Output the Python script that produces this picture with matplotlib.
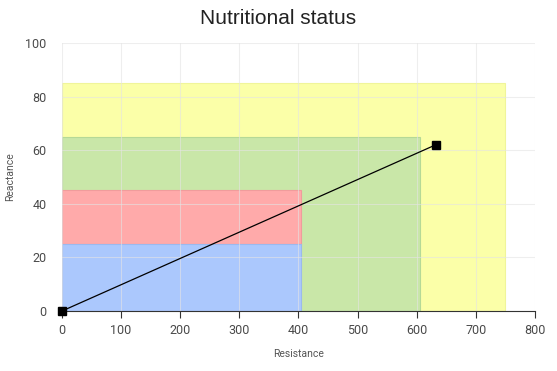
import matplotlib
matplotlib.use("Agg")
import matplotlib.pyplot as plt

# zones: (name, x_end, y_bottom, y_top, colour)
zone_names = ["yellow", "green", "red", "blue"]
zone_x_end = [750, 605, 405, 405]
zone_y_bottom = [0, 0, 25, 0]
zone_y_top = [85, 65, 45, 25]
zone_colors = ["#fbffa8", "#c9e7a8", "#ffaaaa", "#abc8fd"]
zone_edges = ["#f0f59a", "#b5d996", "#f09c9c", "#9bb9ee"]

# measured points
resistance = [0, 632]
reactance = [0, 62]

xticks = [0, 100, 200, 300, 400, 500, 600, 700, 800]
yticks = [0, 20, 40, 60, 80, 100]

fig = plt.figure(figsize=(5.57, 3.71), dpi=100)
ax = fig.add_axes([0.1113, 0.1617, 0.8492, 0.7224])

for i in range(len(zone_names)):
    ax.bar(0, zone_y_top[i] - zone_y_bottom[i], width=zone_x_end[i],
           bottom=zone_y_bottom[i], align='edge', color=zone_colors[i],
           edgecolor=zone_edges[i], linewidth=0.8, zorder=1)

ax.plot(resistance, reactance, color='black', linewidth=0.9,
        marker='s', markersize=6, zorder=5, clip_on=False)

ax.set_xlim(0, 800)
ax.set_ylim(0, 100)
ax.set_xticks(xticks)
ax.set_yticks(yticks)
ax.grid(True, color='#e4e4e4', linewidth=0.8, zorder=0)
ax.set_axisbelow(False)
for g in ax.get_xgridlines() + ax.get_ygridlines():
    g.set_zorder(2)
    g.set_alpha(0.6)

for s in ['left', 'top', 'right']:
    ax.spines[s].set_visible(False)
ax.spines['bottom'].set_color('#333333')
ax.spines['bottom'].set_zorder(4)

ax.tick_params(axis='x', direction='out', length=5, color='#333333',
               labelsize=9, labelcolor='#4a4a4a', pad=4)
ax.tick_params(axis='y', length=0, labelsize=9, labelcolor='#4a4a4a', pad=11)
for lab in ax.get_xticklabels() + ax.get_yticklabels():
    lab.set_family('Roboto')

ax.set_xlabel('Resistance', fontsize=7.5, color='#555555', family='Roboto', labelpad=9)
ax.set_ylabel('Reactance', fontsize=7.5, color='#555555', family='Roboto')
ax.yaxis.set_label_coords(-0.099, 0.5)
fig.suptitle('Nutritional status', fontsize=15, color='#222222',
             family='Liberation Sans', y=0.975)

fig.savefig('out.png', dpi=100)
